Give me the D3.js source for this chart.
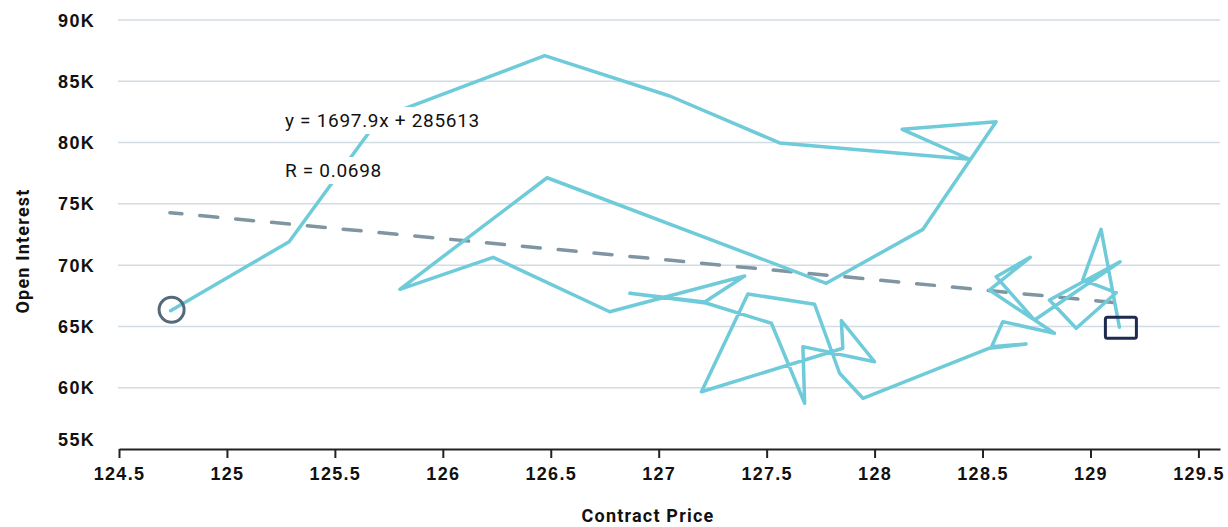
<!DOCTYPE html>
<html>
<head>
<meta charset="utf-8">
<script src="https://cdn.jsdelivr.net/npm/d3@7"></script>
<style>
  body { margin: 0; background: #fff; }
  svg { display: block; font-family: Roboto, "Noto Sans", sans-serif; }
</style>
</head>
<body>
<div id="chart"></div>
<script>
// Contract price vs open interest, in date order
const price = [
  124.739, 125.288, 125.706, 126.472, 127.051, 127.560, 128.440, 128.128, 128.563, 128.224,
  127.776, 126.483, 125.801, 126.233, 126.773, 127.398, 127.213, 126.866, 127.218, 127.522,
  127.676, 127.668, 128.000, 127.846, 127.853, 127.198, 127.413, 127.722, 127.838, 127.946,
  128.532, 128.702, 128.542, 128.594, 128.833, 128.532, 128.721, 128.563, 128.741, 129.137,
  128.810, 128.934, 129.119, 128.964, 129.049, 129.134
];
const openInterest = [
  66280, 71910, 81990, 87090, 83800, 79970, 78640, 81080, 81700, 72920,
  68520, 77130, 68030, 70640, 66200, 69110, 67000, 67700, 66910, 65260,
  58730, 63350, 62120, 65470, 63220, 59670, 67650, 66810, 61180, 59140,
  63220, 63570, 63340, 65390, 64440, 67970, 70640, 69060, 65520, 70280,
  67160, 64850, 67750, 68790, 72920, 64930
];

// Regression line end points
const trendX = [124.736, 129.119];
const trendY = [74280, 66940];

const xTicks = [124.5, 125, 125.5, 126, 126.5, 127, 127.5, 128, 128.5, 129, 129.5];
const yTicks = [55000, 60000, 65000, 70000, 75000, 80000, 85000, 90000];
const equationText = "y = 1697.9x + 285613";
const rText = "R = 0.0698";

const width = 1228, height = 527;
const margin = { top: 20, right: 8, bottom: 78, left: 119 };

const svg = d3.select("#chart").append("svg")
  .attr("width", width)
  .attr("height", height);

const x = d3.scaleLinear()
  .domain([124.5, 129.6])
  .range([margin.left, width - margin.right]);

const y = d3.scaleLinear()
  .domain([55000, 90000])
  .range([height - margin.bottom, margin.top]);

// horizontal gridlines
svg.append("g")
  .selectAll("line")
  .data(yTicks.filter(d => d > 55000))
  .join("line")
  .attr("x1", margin.left - 1)
  .attr("x2", width - margin.right)
  .attr("y1", d => y(d))
  .attr("y2", d => y(d))
  .attr("stroke", "#d2dce4")
  .attr("stroke-width", 1.5);

// y labels (no axis line)
const yAxis = svg.append("g")
  .attr("transform", `translate(${margin.left},0)`)
  .call(d3.axisLeft(y).tickValues(yTicks).tickSize(0).tickPadding(24)
    .tickFormat(d => d / 1000 + "K"));
yAxis.select(".domain").remove();
yAxis.selectAll("text")
  .attr("font-size", 18)
  .attr("font-weight", 700)
  .attr("letter-spacing", 1.3)
  .attr("fill", "#111")
  .attr("dy", d => d === 55000 ? "-0.22em" : "0.34em");

// x axis
const xAxis = svg.append("g")
  .attr("transform", `translate(0,${height - margin.bottom})`)
  .call(d3.axisBottom(x).tickValues(xTicks).tickSize(9).tickSizeOuter(0).tickPadding(9)
    .tickFormat(d3.format("")));
xAxis.select(".domain").attr("stroke", "#222").attr("stroke-width", 2);
xAxis.selectAll(".tick line").attr("stroke", "#222").attr("stroke-width", 2);
xAxis.selectAll("text")
  .attr("font-size", 18)
  .attr("font-weight", 700)
  .attr("letter-spacing", 1.3)
  .attr("fill", "#111");

// axis titles
svg.append("text")
  .attr("x", 648)
  .attr("y", 522)
  .attr("text-anchor", "middle")
  .attr("font-size", 18)
  .attr("font-weight", 700)
  .attr("letter-spacing", 1.2)
  .attr("fill", "#111")
  .text("Contract Price");

svg.append("text")
  .attr("transform", `translate(29,251) rotate(-90)`)
  .attr("text-anchor", "middle")
  .attr("font-size", 18)
  .attr("font-weight", 700)
  .attr("letter-spacing", 1.2)
  .attr("fill", "#111")
  .text("Open Interest");

// trend line
svg.append("path")
  .datum(d3.zip(trendX, trendY))
  .attr("d", d3.line().x(d => x(d[0])).y(d => y(d[1])))
  .attr("fill", "none")
  .attr("stroke", "#7f95a2")
  .attr("stroke-width", 3.5)
  .attr("stroke-linecap", "round")
  .attr("stroke-dasharray", "18,18")
  .attr("stroke-dashoffset", 6);

// price path
const pts = d3.zip(price, openInterest);
svg.append("path")
  .datum(pts)
  .attr("d", d3.line().x(d => x(d[0])).y(d => y(d[1])))
  .attr("fill", "none")
  .attr("stroke", "#6fcbd9")
  .attr("stroke-width", 3.5)
  .attr("stroke-linejoin", "round")
  .attr("stroke-linecap", "round");

// annotation labels with white box behind
function label(tx, ty, str) {
  const g = svg.append("g");
  const t = g.append("text")
    .attr("x", tx)
    .attr("y", ty)
    .attr("font-size", 19)
    .attr("letter-spacing", 0.7)
    .attr("fill", "#111")
    .text(str);
  const b = t.node().getBBox();
  g.insert("rect", "text")
    .attr("x", b.x - 4)
    .attr("y", b.y - 2)
    .attr("width", b.width + 6)
    .attr("height", b.height + 4)
    .attr("fill", "#fff");
}
label(285, 127, equationText);
label(285, 177, rText);

// first and last observations
const first = pts[0], last = pts[pts.length - 1];
svg.append("circle")
  .attr("cx", x(first[0]) + 1)
  .attr("cy", y(first[1]) - 1)
  .attr("r", 12.5)
  .attr("fill", "none")
  .attr("stroke", "#56697a")
  .attr("stroke-width", 3);

svg.append("rect")
  .attr("x", x(last[0]) - 14)
  .attr("y", y(last[1]) - 10)
  .attr("width", 31)
  .attr("height", 21)
  .attr("rx", 2)
  .attr("fill", "none")
  .attr("stroke", "#1e2b50")
  .attr("stroke-width", 3);
</script>
</body>
</html>
